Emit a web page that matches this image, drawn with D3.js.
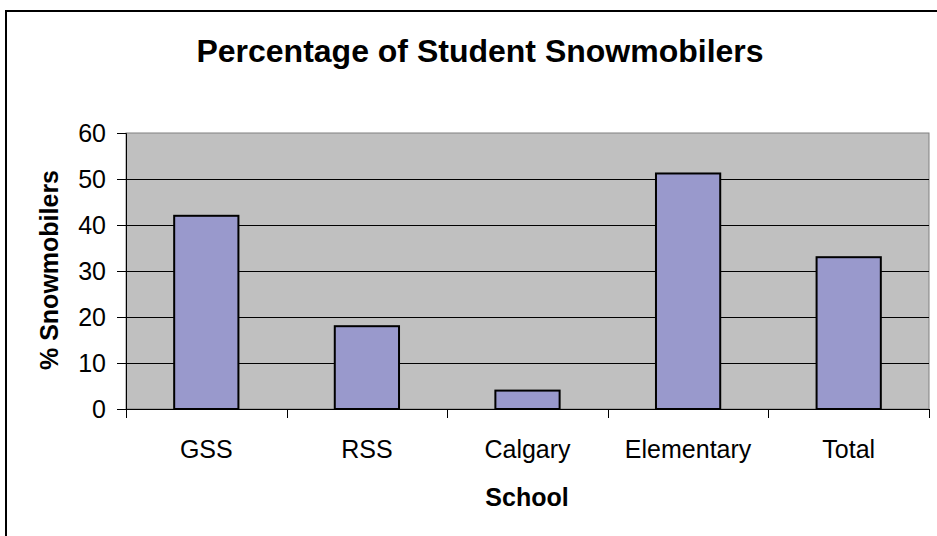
<!DOCTYPE html>
<html>
<head>
<meta charset="utf-8">
<script src="https://cdn.jsdelivr.net/npm/d3@7"></script>
<style>
  html, body { margin: 0; padding: 0; background: #fff; }
  svg { display: block; font-family: Arial, "Liberation Sans", sans-serif; }
</style>
</head>
<body>
<svg id="chart" width="937" height="536"></svg>
<script>
// Share of students who ride snowmobiles, by school
const schools = ["GSS", "RSS", "Calgary", "Elementary", "Total"];
const percentages = [42, 18, 4, 51.2, 33];
const yTicks = [0, 10, 20, 30, 40, 50, 60];

const FONT = "Arial, 'Liberation Sans', sans-serif";
const svg = d3.select("#chart");
const W = 937, H = 536;
const plot = { left: 126, right: 929, top: 133, bottom: 409 };

// Outer frame
svg.append("rect")
  .attr("x", 6).attr("y", 11)
  .attr("width", W + 10).attr("height", H + 10)
  .attr("fill", "#fff").attr("stroke", "#000").attr("stroke-width", 2);

const x = d3.scaleBand()
  .domain(schools)
  .range([plot.left, plot.right])
  .paddingInner(0.6)
  .paddingOuter(0.3);

const y = d3.scaleLinear()
  .domain([0, 60])
  .range([plot.bottom, plot.top]);

// Plot background
svg.append("rect")
  .attr("x", plot.left).attr("y", plot.top)
  .attr("width", plot.right - plot.left).attr("height", plot.bottom - plot.top)
  .attr("fill", "#C0C0C0").attr("stroke", "#808080").attr("stroke-width", 1);

// Horizontal gridlines
svg.append("g")
  .selectAll("line")
  .data(yTicks.filter(t => t > 0 && t < 60))
  .join("line")
  .attr("x1", plot.left).attr("x2", plot.right)
  .attr("y1", d => Math.round(y(d)) + 0.5).attr("y2", d => Math.round(y(d)) + 0.5)
  .attr("stroke", "#000").attr("stroke-width", 1);

// Bars
svg.append("g")
  .selectAll("rect")
  .data(schools)
  .join("rect")
  .attr("x", d => x(d))
  .attr("y", (d, i) => y(percentages[i]))
  .attr("width", x.bandwidth())
  .attr("height", (d, i) => y(0) - y(percentages[i]))
  .attr("fill", "#9999CC")
  .attr("stroke", "#000").attr("stroke-width", 2);

// Y axis
const yAxis = d3.axisLeft(y).tickValues(yTicks).tickSize(9).tickPadding(11);
const gy = svg.append("g")
  .attr("transform", `translate(${plot.left},0)`)
  .call(yAxis)
  .attr("font-size", null).attr("font-family", null);
gy.select(".domain").attr("stroke", "#000").attr("stroke-width", 1);
gy.selectAll(".tick line").attr("stroke", "#000");
gy.selectAll(".tick text")
  .style("font-size", "25px").style("font-family", FONT)
  .attr("fill", "#000");

// X axis: category labels with ticks on category boundaries
const gx = svg.append("g")
  .attr("transform", `translate(0,${plot.bottom})`);
gx.append("line")
  .attr("x1", plot.left).attr("x2", plot.right)
  .attr("y1", 0.5).attr("y2", 0.5)
  .attr("stroke", "#000");
const step = x.step();
const boundaries = d3.range(schools.length + 1).map(i => plot.left + i * step);
gx.selectAll("line.bd")
  .data(boundaries)
  .join("line")
  .attr("class", "bd")
  .attr("x1", d => Math.round(d) + 0.5).attr("x2", d => Math.round(d) + 0.5)
  .attr("y1", 0).attr("y2", 9)
  .attr("stroke", "#000");
gx.selectAll("text")
  .data(schools)
  .join("text")
  .attr("x", d => x(d) + x.bandwidth() / 2)
  .attr("y", 49)
  .attr("text-anchor", "middle")
  .style("font-size", "25px").style("font-family", FONT)
  .text(d => d);

// Titles
svg.append("text")
  .attr("x", 480).attr("y", 62)
  .attr("text-anchor", "middle")
  .style("font-size", "32px").style("font-family", FONT).attr("font-weight", "bold")
  .text("Percentage of Student Snowmobilers");

svg.append("text")
  .attr("x", 527).attr("y", 506)
  .attr("text-anchor", "middle")
  .style("font-size", "25px").style("font-family", FONT).attr("font-weight", "bold")
  .text("School");

svg.append("text")
  .attr("transform", `translate(58,270) rotate(-90)`)
  .attr("text-anchor", "middle")
  .style("font-size", "25px").style("font-family", FONT).attr("font-weight", "bold")
  .text("% Snowmobilers");
</script>
</body>
</html>
